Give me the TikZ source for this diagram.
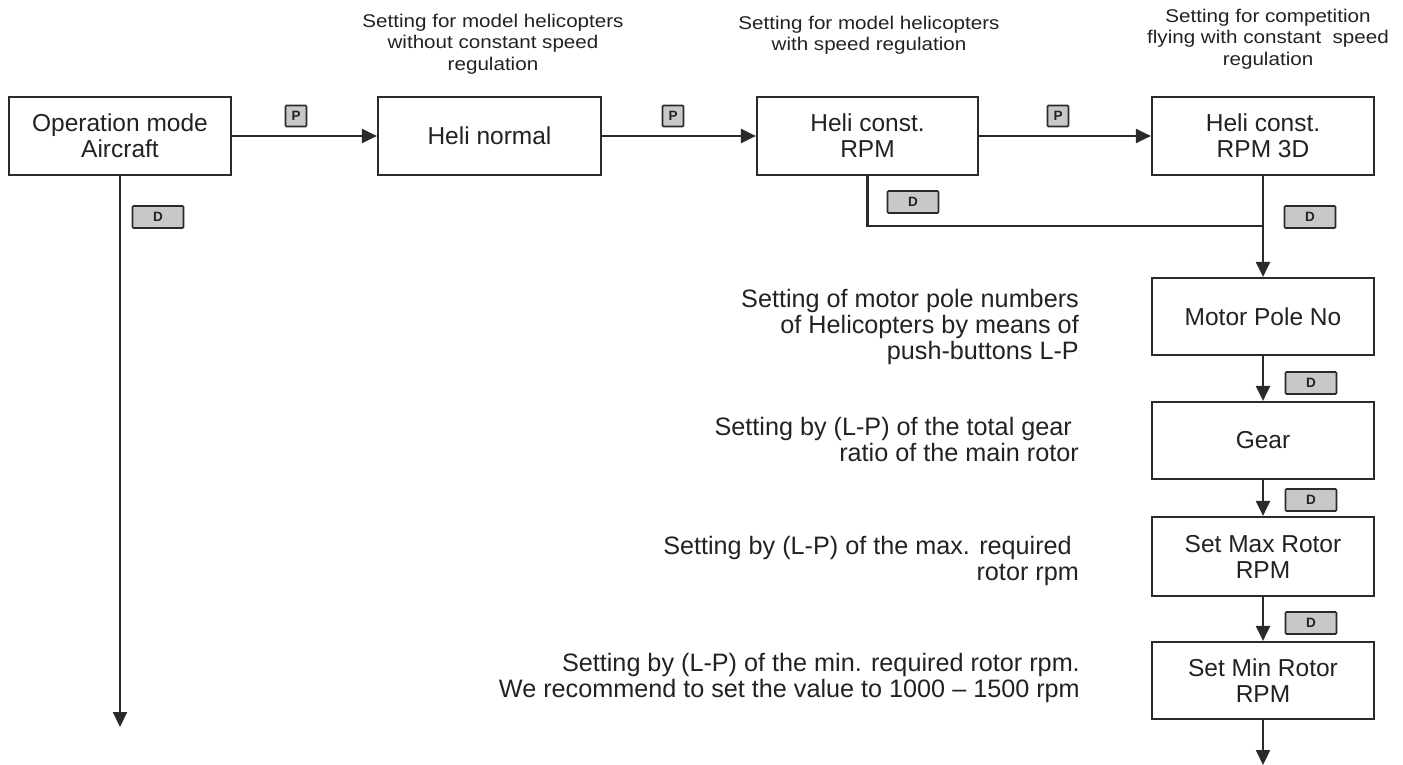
\documentclass[tikz,border=0pt]{standalone}
\usepackage{fontspec}
\setmainfont{Liberation Sans}
\newfontfamily\topfont[FakeStretch=1.12]{Liberation Sans}
\usetikzlibrary{arrows.meta}
\definecolor{linec}{HTML}{2A2A2A}
\definecolor{textc}{HTML}{222222}
\definecolor{keyfill}{HTML}{C8C8C8}
\begin{document}
\begin{tikzpicture}[x=1pt,y=-1pt,
  box/.style={draw=linec, line width=2.2pt, fill=white, minimum width=222pt, minimum height=78pt, align=center, font=\fontsize{24.5}{26}\selectfont, text=textc, inner sep=0pt},
  pkey/.style={draw=linec, line width=1.6pt, fill=keyfill, minimum width=21pt, minimum height=21pt, inner sep=0pt, font=\fontsize{13.5}{13.5}\selectfont\bfseries, rounded corners=1pt, text=textc},
  dkey/.style={pkey, minimum width=51pt, minimum height=22pt},
  conn/.style={draw=linec, line width=2.2pt, -{Triangle[length=15pt,width=14pt]}},
  plain/.style={draw=linec, line width=2.2pt},
  side/.style={align=right, anchor=east, font=\fontsize{25.2}{26}\selectfont, inner sep=0pt, text=textc},
  topnote/.style={align=center, font=\topfont\fontsize{18.4}{21.5}\selectfont, inner sep=0pt, text=textc}
]
\useasboundingbox (0,0) rectangle (1403,765);

% main boxes
\node[box] (b1) at (120,136) {Operation mode\\Aircraft};
\node[box, minimum width=223pt] (b2) at (489.5,136) {Heli normal};
\node[box, minimum width=221pt] (b3) at (867.5,136) {Heli const.\\RPM};
\node[box] (b4) at (1263,136) {Heli const.\\RPM 3D};
\node[box, minimum height=77pt] (mp) at (1263,316.5) {Motor Pole No};
\node[box, minimum height=77pt] (gear) at (1263,440.5) {Gear};
\node[box, minimum height=79pt] (smax) at (1263,556.5) {Set Max Rotor\\RPM};
\node[box, minimum height=77pt] (smin) at (1263,680.5) {Set Min Rotor\\RPM};

% top notes
\node[topnote] (t1) at (493,44) {Setting for model helicopters\\without constant speed\\regulation};
\node[topnote] (t2) at (869,35) {Setting for model helicopters\\with speed regulation};
\node[topnote] (t3) at (1268,39) {Setting for competition\\flying with constant\ \ speed\\regulation};

% side notes
\node[side] (n1) at (1079,327) {Setting of motor pole numbers\\of Helicopters by means of\\push-buttons L-P};
\node[side] (n2) at (1079,439) {Setting by (L-P) of the total gear\hspace*{7pt}\\ratio of the main rotor};
\node[side] (n3) at (1079,561) {Setting by (L-P) of the max. required\hspace*{7pt}\\rotor rpm};
\node[side] (n4) at (1080,678) {Setting by (L-P) of the min. required rotor rpm.\\We recommend to set the value to 1000 – 1500 rpm};

% coordinates
\coordinate (e1) at (120,727);
\coordinate (j) at (1263,226);
\coordinate (e2) at (1263,765);

% connectors
\draw[conn] (b1) -- (b2);
\draw[conn] (b2) -- (b3);
\draw[conn] (b3) -- (b4);
\draw[conn] (b1.south) -- (e1);
\draw[plain] (b3.south) |- (j);
\draw[conn] (b4.south) -- (mp.north);
\draw[conn] (mp) -- (gear);
\draw[conn] (gear) -- (smax);
\draw[conn] (smax) -- (smin);
\draw[conn] (smin.south) -- (e2);

% key labels
\node[pkey] (p1) at (296,116) {P};
\node[pkey] (p2) at (673,116) {P};
\node[pkey] (p3) at (1058,116) {P};
\node[dkey] (d1) at (158,217) {D};
\node[dkey] (d2) at (913,202) {D};
\node[dkey] (d3) at (1310,217) {D};
\node[dkey] (d4) at (1311,383) {D};
\node[dkey] (d5) at (1311,500) {D};
\node[dkey] (d6) at (1311,623) {D};
\end{tikzpicture}
\end{document}
